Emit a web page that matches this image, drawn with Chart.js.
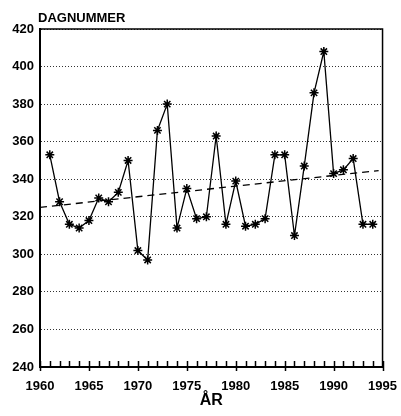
<!DOCTYPE html>
<html>
<head>
<meta charset="utf-8">
<script src="https://cdn.jsdelivr.net/npm/chart.js@4/dist/chart.umd.min.js"></script>
<style>
  html, body { margin: 0; padding: 0; background: #fff; }
  #wrap { width: 401px; height: 416px; }
</style>
</head>
<body>
<div id="wrap"><canvas id="dagChart" width="401" height="416"></canvas></div>
<script>
// day number per year
const years = [1961, 1962, 1963, 1964, 1965, 1966, 1967, 1968, 1969, 1970,
               1971, 1972, 1973, 1974, 1975, 1976, 1977, 1978, 1979, 1980,
               1981, 1982, 1983, 1984, 1985, 1986, 1987, 1988, 1989, 1990,
               1991, 1992, 1993, 1994];
const dagnummer = [353, 328, 316, 314, 318, 330, 328, 333, 350, 302,
                   297, 366, 380, 314, 335, 319, 320, 363, 316, 339,
                   315, 316, 319, 353, 353, 310, 347, 386, 408, 343,
                   345, 351, 316, 316];
// dashed trend line, end points
const trendYears = [1960, 1994.6];
const trendValues = [325, 344.6];
const yTicks = [240, 420, 20];   // min, max, step
const xTicks = [1960, 1995, 5];

const font = 'Liberation Sans, Arial, Helvetica, sans-serif';

// frame, year tick marks and the y label
const extras = {
    id: 'extras',
    afterDatasetsDraw(chart) {
        const ctx = chart.ctx;
        const a = chart.chartArea;
        const xs = chart.scales.x;
        ctx.save();
        ctx.strokeStyle = '#000';
        ctx.lineWidth = 1.5;
        ctx.beginPath();
        ctx.moveTo(a.left, a.top);
        ctx.lineTo(a.right, a.top);
        ctx.lineTo(a.right, a.bottom);
        ctx.stroke();

        ctx.lineWidth = 1.5;
        for (let yr = xs.min; yr <= xs.max; yr++) {
            const px = Math.round(xs.getPixelForValue(yr)) + 0.5;
            const major = yr % 5 === 0;
            ctx.beginPath();
            ctx.moveTo(px, a.bottom - 6);
            ctx.lineTo(px, a.bottom + (major ? 4 : 0));
            ctx.stroke();
        }

        ctx.fillStyle = '#000';
        ctx.font = 'bold 13px ' + font;
        ctx.textAlign = 'left';
        ctx.textBaseline = 'alphabetic';
        ctx.fillText('DAGNUMMER', a.left - 2, a.top - 7);
        ctx.restore();
    }
};

new Chart(document.getElementById('dagChart').getContext('2d'), {
    type: 'line',
    data: {
        datasets: [{
            label: 'Dagnummer',
            data: years.map((y, i) => ({ x: y, y: dagnummer[i] })),
            borderColor: '#000',
            backgroundColor: '#000',
            borderWidth: 1.3,
            tension: 0,
            pointStyle: 'star',
            pointRadius: 4.5,
            pointBorderWidth: 1.5,
            pointBorderColor: '#000'
        }, {
            label: 'Trend',
            data: trendYears.map((y, i) => ({ x: y, y: trendValues[i] })),
            borderColor: '#000',
            borderWidth: 1.3,
            borderDash: [7, 5],
            pointRadius: 0
        }]
    },
    options: {
        responsive: false,
        animation: false,
        layout: { padding: { top: 29, right: 12, left: 0, bottom: 0 } },
        plugins: {
            legend: { display: false },
            tooltip: { enabled: false }
        },
        scales: {
            x: {
                type: 'linear',
                min: xTicks[0],
                max: xTicks[1],
                grid: { display: false },
                border: { display: true, color: '#000', width: 2 },
                ticks: {
                    stepSize: xTicks[2],
                    color: '#000',
                    padding: 4,
                    maxRotation: 0,
                    font: { family: font, size: 13, weight: 'bold' },
                    callback: v => String(v)
                },
                title: {
                    display: true,
                    text: 'ÅR',
                    color: '#000',
                    font: { family: font, size: 16, weight: 'bold' },
                    padding: { top: 0, bottom: 6 }
                },
                afterFit: s => { s.height = 49; }
            },
            y: {
                min: yTicks[0],
                max: yTicks[1],
                grid: { color: '#333', lineWidth: 1, drawTicks: false },
                border: { display: true, color: '#000', width: 2, dash: [1, 2] },
                ticks: {
                    stepSize: yTicks[2],
                    color: '#000',
                    padding: 6,
                    font: { family: font, size: 13, weight: 'bold' }
                },
                afterFit: s => { s.width = 40; }
            }
        }
    },
    plugins: [extras]
});
</script>
</body>
</html>
